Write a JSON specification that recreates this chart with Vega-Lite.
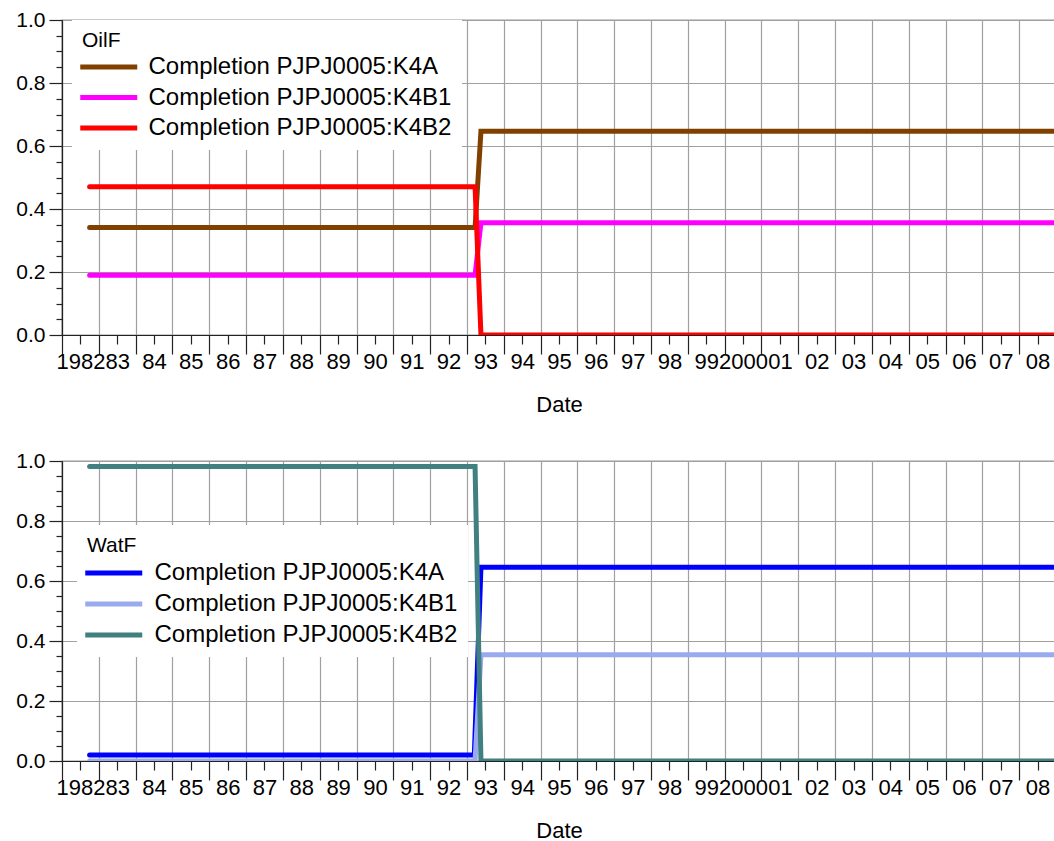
{
  "$schema": "https://vega.github.io/schema/vega-lite/v6.json",
  "background": "white",
  "padding": {"left": 15, "top": 8, "right": 0, "bottom": 0},
  "spacing": 33,
  "datasets": {
    "oil": [
      {"series": "Completion PJPJ0005:K4A", "year": 1982.75, "value": 0.341},
      {"series": "Completion PJPJ0005:K4A", "year": 1993.22, "value": 0.341},
      {"series": "Completion PJPJ0005:K4A", "year": 1993.38, "value": 0.647},
      {"series": "Completion PJPJ0005:K4A", "year": 2008.97, "value": 0.647},
      {"series": "Completion PJPJ0005:K4B1", "year": 1982.75, "value": 0.19},
      {"series": "Completion PJPJ0005:K4B1", "year": 1993.22, "value": 0.19},
      {"series": "Completion PJPJ0005:K4B1", "year": 1993.38, "value": 0.356},
      {"series": "Completion PJPJ0005:K4B1", "year": 2008.97, "value": 0.356},
      {"series": "Completion PJPJ0005:K4B2", "year": 1982.75, "value": 0.471},
      {"series": "Completion PJPJ0005:K4B2", "year": 1993.22, "value": 0.471},
      {"series": "Completion PJPJ0005:K4B2", "year": 1993.38, "value": 0.0},
      {"series": "Completion PJPJ0005:K4B2", "year": 2008.97, "value": 0.0}
    ],
    "wat": [
      {"series": "Completion PJPJ0005:K4A", "year": 1982.75, "value": 0.02},
      {"series": "Completion PJPJ0005:K4A", "year": 1993.2, "value": 0.02},
      {"series": "Completion PJPJ0005:K4A", "year": 1993.38, "value": 0.646},
      {"series": "Completion PJPJ0005:K4A", "year": 2008.97, "value": 0.646},
      {"series": "Completion PJPJ0005:K4B1", "year": 1982.75, "value": 0.0},
      {"series": "Completion PJPJ0005:K4B1", "year": 1993.22, "value": 0.0},
      {"series": "Completion PJPJ0005:K4B1", "year": 1993.38, "value": 0.354},
      {"series": "Completion PJPJ0005:K4B1", "year": 2008.97, "value": 0.354},
      {"series": "Completion PJPJ0005:K4B2", "year": 1982.75, "value": 0.982},
      {"series": "Completion PJPJ0005:K4B2", "year": 1993.22, "value": 0.982},
      {"series": "Completion PJPJ0005:K4B2", "year": 1993.38, "value": 0.0},
      {"series": "Completion PJPJ0005:K4B2", "year": 2008.97, "value": 0.0}
    ]
  },
  "vconcat": [
    {
      "width": 994,
      "height": 315,
      "data": {"name": "oil"},
      "mark": {"type": "line", "strokeWidth": 5, "strokeCap": "round", "clip": true},
      "encoding": {
        "x": {
          "field": "year", "type": "quantitative",
          "scale": {"domain": [1982, 2009], "nice": false, "zero": false},
          "axis": {
            "title": "Date",
            "values": [1982,1982.5,1983,1983.5,1984,1984.5,1985,1985.5,1986,1986.5,1987,1987.5,1988,1988.5,1989,1989.5,1990,1990.5,1991,1991.5,1992,1992.5,1993,1993.5,1994,1994.5,1995,1995.5,1996,1996.5,1997,1997.5,1998,1998.5,1999,1999.5,2000,2000.5,2001,2001.5,2002,2002.5,2003,2003.5,2004,2004.5,2005,2005.5,2006,2006.5,2007,2007.5,2008,2008.5,2009],
            "gridOpacity": {"condition": {"test": "datum.value % 1 === 0", "value": 1}, "value": 0},
            "tickSize": {"condition": {"test": "datum.value % 1 === 0", "value": 19}, "value": 9},
            "labelExpr": "datum.value % 1 === 0 ? '' : ((floor(datum.value) === 1982 || floor(datum.value) === 2000) ? '' + floor(datum.value) : slice('0' + (floor(datum.value) % 100), -2))",
            "labelOverlap": false, "labelFlush": false, "labelBound": false,
            "labelFontSize": 22, "labelPadding": 7, "titlePadding": 12
          }
        },
        "y": {
          "field": "value", "type": "quantitative",
          "scale": {"domain": [0, 1], "nice": false},
          "axis": {
            "title": null,
            "values": [0,0.05,0.1,0.15,0.2,0.25,0.3,0.35,0.4,0.45,0.5,0.55,0.6,0.65,0.7,0.75,0.8,0.85,0.9,0.95,1.0],
            "gridOpacity": {"condition": {"test": "round(datum.value*20) % 4 === 0", "value": 1}, "value": 0},
            "tickSize": {"condition": {"test": "round(datum.value*20) % 4 === 0", "value": 13}, "value": 6},
            "labelExpr": "round(datum.value*20) % 4 === 0 ? format(datum.value, '.1f') : ''",
            "labelOverlap": false, "labelFlush": false,
            "labelPadding": 4
          }
        },
        "color": {
          "field": "series", "type": "nominal",
          "scale": {"domain": ["Completion PJPJ0005:K4A", "Completion PJPJ0005:K4B1", "Completion PJPJ0005:K4B2"], "range": ["#804000", "#FF00FF", "#FF0000"]},
          "legend": {"title": "OilF", "orient": "none", "legendX": 10, "legendY": 0, "titlePadding": -1, "rowPadding": 1.5, "symbolOffset": 9.75, "labelOffset": 22.75}
        }
      }
    },
    {
      "width": 994,
      "height": 300,
      "data": {"name": "wat"},
      "mark": {"type": "line", "strokeWidth": 5, "strokeCap": "round", "clip": true},
      "encoding": {
        "x": {
          "field": "year", "type": "quantitative",
          "scale": {"domain": [1982, 2009], "nice": false, "zero": false},
          "axis": {
            "title": "Date",
            "values": [1982,1982.5,1983,1983.5,1984,1984.5,1985,1985.5,1986,1986.5,1987,1987.5,1988,1988.5,1989,1989.5,1990,1990.5,1991,1991.5,1992,1992.5,1993,1993.5,1994,1994.5,1995,1995.5,1996,1996.5,1997,1997.5,1998,1998.5,1999,1999.5,2000,2000.5,2001,2001.5,2002,2002.5,2003,2003.5,2004,2004.5,2005,2005.5,2006,2006.5,2007,2007.5,2008,2008.5,2009],
            "gridOpacity": {"condition": {"test": "datum.value % 1 === 0", "value": 1}, "value": 0},
            "tickSize": {"condition": {"test": "datum.value % 1 === 0", "value": 19}, "value": 9},
            "labelExpr": "datum.value % 1 === 0 ? '' : ((floor(datum.value) === 1982 || floor(datum.value) === 2000) ? '' + floor(datum.value) : slice('0' + (floor(datum.value) % 100), -2))",
            "labelOverlap": false, "labelFlush": false, "labelBound": false,
            "labelFontSize": 22, "labelPadding": 7, "titlePadding": 12
          }
        },
        "y": {
          "field": "value", "type": "quantitative",
          "scale": {"domain": [0, 1], "nice": false},
          "axis": {
            "title": null,
            "values": [0,0.05,0.1,0.15,0.2,0.25,0.3,0.35,0.4,0.45,0.5,0.55,0.6,0.65,0.7,0.75,0.8,0.85,0.9,0.95,1.0],
            "gridOpacity": {"condition": {"test": "round(datum.value*20) % 4 === 0", "value": 1}, "value": 0},
            "tickSize": {"condition": {"test": "round(datum.value*20) % 4 === 0", "value": 13}, "value": 6},
            "labelExpr": "round(datum.value*20) % 4 === 0 ? format(datum.value, '.1f') : ''",
            "labelOverlap": false, "labelFlush": false,
            "labelPadding": 4
          }
        },
        "color": {
          "field": "series", "type": "nominal",
          "scale": {"domain": ["Completion PJPJ0005:K4A", "Completion PJPJ0005:K4B1", "Completion PJPJ0005:K4B2"], "range": ["#0000FF", "#99AAEE", "#408080"]},
          "legend": {"title": "WatF", "orient": "none", "legendX": 15, "legendY": 64, "titlePadding": 0, "rowPadding": 2, "symbolOffset": 9.75, "labelOffset": 23.75}
        }
      }
    }
  ],
  "resolve": {"scale": {"color": "independent"}, "legend": {"color": "independent"}},
  "config": {
    "font": "Liberation Sans",
    "view": {"stroke": "#333333", "strokeWidth": 1.2},
    "axis": {
      "domainColor": "#222222", "domainWidth": 1.2,
      "tickColor": "#222222", "tickWidth": 1.2,
      "gridColor": "#a0a0a0", "gridWidth": 1.2,
      "labelFont": "Liberation Sans", "labelFontSize": 21, "labelColor": "#000000",
      "titleFont": "Liberation Sans", "titleFontSize": 22, "titleFontWeight": "normal", "titleColor": "#000000"
    },
    "legend": {
      "symbolType": "M-2,0L2,0", "symbolSize": 812, "symbolStrokeWidth": 5,
      "labelFont": "Liberation Sans", "labelFontSize": 24, "labelColor": "#000000", "labelLimit": 500,
      "titleFont": "Liberation Sans", "titleFontSize": 21, "titleFontWeight": "normal", "titleColor": "#000000",
      "padding": 10, "fillColor": "white"
    }
  }
}
